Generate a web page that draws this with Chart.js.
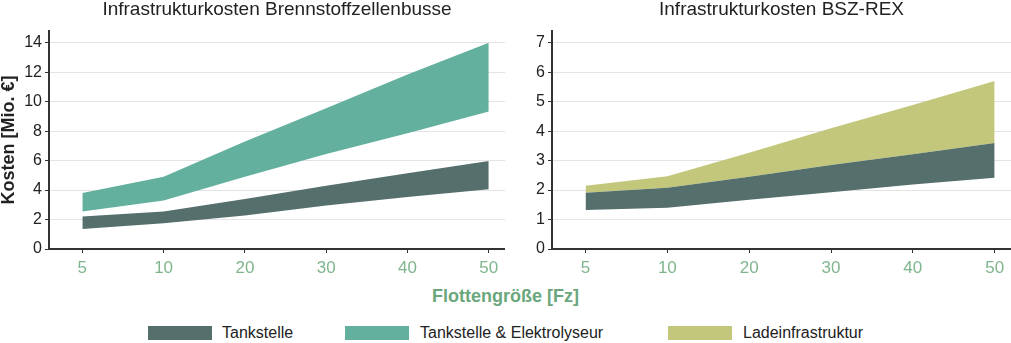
<!DOCTYPE html>
<html>
<head>
<meta charset="utf-8">
<script src="https://cdn.jsdelivr.net/npm/chart.js@4/dist/chart.umd.min.js"></script>
<style>
  body { margin: 0; background: #fff; font-family: "Liberation Sans", Arial, sans-serif; }
  #wrap { position: relative; width: 1011px; height: 343px; overflow: hidden; }
  .box { position: absolute; }
  #xtitle { position: absolute; top: 286px; left: 0; width: 1011px; text-align: center;
            font-weight: bold; font-size: 18px; color: #6aa77c; }
  .sw { position: absolute; top: 326px; width: 64px; height: 14px; }
  .lab { position: absolute; top: 324px; font-size: 16px; color: #222; line-height: 18px; }
</style>
</head>
<body>
<div id="wrap">
  <div class="box" style="left:0;top:0;width:505px;height:285px"><canvas id="chartBZ"></canvas></div>
  <div class="box" style="left:505px;top:0;width:506px;height:285px"><canvas id="chartREX"></canvas></div>
  <div id="xtitle">Flottengröße [Fz]</div>
  <div class="sw" style="left:148px;background:#55706c"></div><div class="lab" style="left:222px">Tankstelle</div>
  <div class="sw" style="left:345px;background:#63b09f"></div><div class="lab" style="left:420px">Tankstelle &amp; Elektrolyseur</div>
  <div class="sw" style="left:668px;background:#c2c77c"></div><div class="lab" style="left:743px">Ladeinfrastruktur</div>
</div>
<script>
const categories = ['5', '10', '20', '30', '40', '50'];

// Brennstoffzellenbusse (Mio. €)
const bzTankLow = [1.35, 1.75, 2.28, 2.95, 3.53, 4.05];
const bzTankHigh = [2.2, 2.55, 3.4, 4.3, 5.15, 5.97];
const bzElyLow = [2.55, 3.3, 4.9, 6.45, 7.85, 9.33];
const bzElyHigh = [3.8, 4.9, 7.3, 9.55, 11.85, 14.0];

// BSZ-REX (Mio. €)
const rexTankLow = [1.32, 1.4, 1.67, 1.93, 2.19, 2.42];
const rexTankHigh = [1.91, 2.08, 2.45, 2.85, 3.22, 3.6];
const rexLadeHigh = [2.15, 2.47, 3.27, 4.1, 4.89, 5.7];

const yTicksBZ = [0, 2, 4, 6, 8, 10, 12, 14];
const yTicksREX = [0, 1, 2, 3, 4, 5, 6, 7];

const FONT = '"Liberation Sans", Arial, sans-serif';
const colTank = '#55706c';
const colEly = '#63b09f';
const colLade = '#c2c77c';

function pts(arr) {
    return arr.map((v, i) => ({ x: i, y: v }));
}

function band(arr, color, fill) {
    return {
        data: pts(arr),
        borderWidth: 0,
        pointRadius: 0,
        backgroundColor: color,
        fill: fill,
        tension: 0
    };
}

function makeChart(id, title, datasets, yTicks, yMax, yWidth, yTitle) {
    return new Chart(document.getElementById(id), {
        type: 'line',
        data: { datasets },
        options: {
            responsive: true,
            maintainAspectRatio: false,
            animation: false,
            plugins: {
                legend: { display: false },
                tooltip: { enabled: false },
                title: {
                    display: true,
                    text: title,
                    fullSize: false,
                    color: '#222',
                    font: { family: FONT, size: 19, weight: 'normal', lineHeight: 1 },
                    padding: { top: 0, bottom: 12 }
                }
            },
            scales: {
                x: {
                    type: 'linear',
                    min: -0.41,
                    max: 5.2,
                    afterBuildTicks: s => { s.ticks = categories.map((c, i) => ({ value: i })); },
                    afterFit: s => { s.height = 36; },
                    ticks: {
                        callback: v => categories[v],
                        color: '#7fb68d',
                        font: { family: FONT, size: 17 },
                        padding: 5,
                        maxRotation: 0
                    },
                    grid: { drawOnChartArea: false, tickLength: 4, tickColor: '#333' },
                    border: { color: '#333', width: 2 }
                },
                y: {
                    min: 0,
                    max: yMax,
                    afterBuildTicks: s => { s.ticks = yTicks.map(v => ({ value: v })); },
                    afterFit: s => { s.width = yWidth; },
                    ticks: {
                        color: '#222',
                        font: { family: FONT, size: 16 },
                        padding: 3
                    },
                    grid: { color: '#e4e4e4', lineWidth: 1, tickLength: 4, tickColor: '#333' },
                    border: { color: '#333', width: 2 },
                    title: {
                        display: !!yTitle,
                        text: yTitle,
                        color: '#222',
                        font: { family: FONT, size: 18, weight: 'bold', lineHeight: 1 },
                        padding: 0
                    }
                }
            }
        }
    });
}

makeChart('chartBZ', 'Infrastrukturkosten Brennstoffzellenbusse', [
    band(bzTankLow, colTank, false),
    band(bzTankHigh, colTank, '-1'),
    band(bzElyLow, colEly, false),
    band(bzElyHigh, colEly, '-1')
], yTicksBZ, 14.8, 49, 'Kosten [Mio. €]');

makeChart('chartREX', 'Infrastrukturkosten BSZ-REX', [
    band(rexTankLow, colTank, false),
    band(rexTankHigh, colTank, '-1'),
    band(rexLadeHigh, colLade, '-1')
], yTicksREX, 7.4, 47, '');
</script>
</body>
</html>
